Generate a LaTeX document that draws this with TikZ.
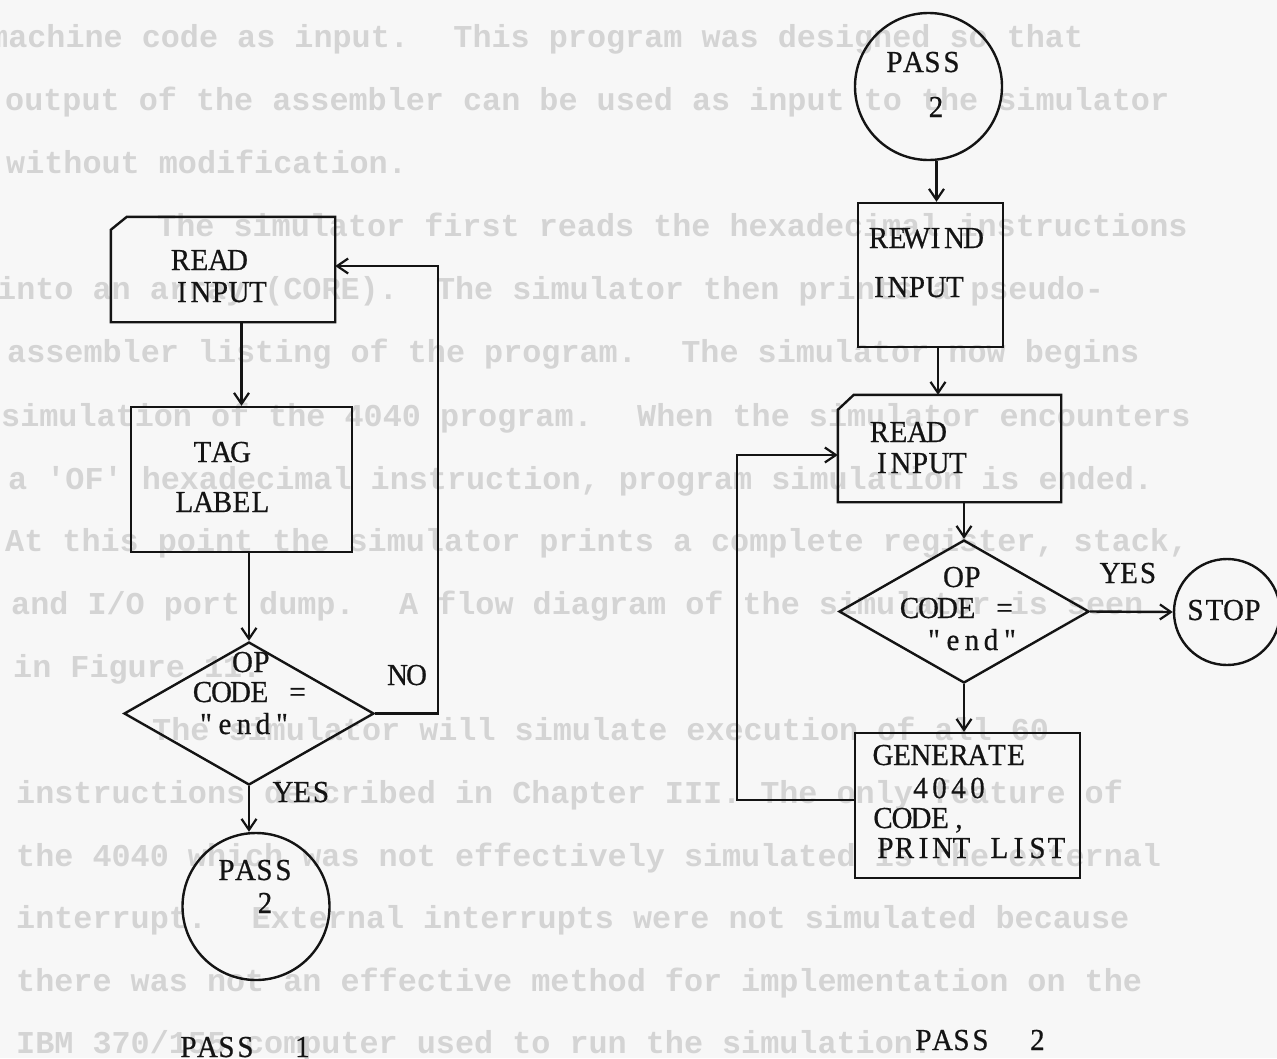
\documentclass[tikz,border=0pt]{standalone}
\usepackage{fontspec}
\setmainfont{Liberation Serif}
\newfontfamily\diagfont{Liberation Serif}[FakeStretch=0.95,FakeBold=0.6,Ligatures=TeXOff]
\newfontfamily\ghostfont{Liberation Mono}[Ligatures=TeXOff]
\usetikzlibrary{arrows.meta,shapes.geometric}
\newlength\monopitch
\setlength\monopitch{19pt}
\makeatletter
\newcommand\monotext[1]{\@tfor\mch:=#1\do{\makebox[\monopitch][c]{\mch}}}
\makeatother
\begin{document}
\begin{tikzpicture}[x=1pt,y=-1pt,
  ln/.style={line width=2.4pt, draw=black!92, line join=miter},
  arr/.style={ln, -{Straight Barb[length=11pt,width=15pt,line width=2.2pt]}},
  boxshape/.style={rectangle, ln, inner sep=0pt},
  cardshape/.style={rectangle, draw=none, inner sep=0pt},
  dshape/.style={diamond, ln, inner sep=0pt},
  cshape/.style={circle, ln, inner sep=0pt},
  txt/.style={font=\diagfont\fontsize{30.5}{32}\selectfont, inner sep=0pt, anchor=base, text=black!92},
  ghost/.style={font=\ghostfont\bfseries\fontsize{31.8}{40}\selectfont, text=black!17, anchor=base west, inner sep=0pt},
]
\useasboundingbox (0,0) rectangle (1277,1058);
\fill[black!3] (0,0) rectangle (1277,1058);
\clip (0,0) rectangle (1277,1058);

% faint text showing through the page
\node[ghost] (g1) at (-11,47) {machine code as input.~ This program was designed so that};
\node[ghost] (g2) at (5,110) {output of the assembler can be used as input to the simulator};
\node[ghost] (g3) at (6,173) {without modification.};
\node[ghost] (g4) at (157,236) {The simulator first reads the hexadecimal instructions};
\node[ghost] (g5) at (-3,299) {into an array (CORE).~ The simulator then prints a pseudo-};
\node[ghost] (g6) at (7,362) {assembler listing of the program.~ The simulator now begins};
\node[ghost] (g7) at (1,426) {simulation of the 4040 program.~ When the simulator encounters};
\node[ghost] (g8) at (8,489) {a 'OF' hexadecimal instruction, program simulation is ended.};
\node[ghost] (g9) at (5,551) {At this point the simulator prints a complete register, stack,};
\node[ghost] (g10) at (11,614) {and I/O port dump.~ A flow diagram of the simulator is seen};
\node[ghost] (g11) at (13,677) {in Figure 11.};
\node[ghost] (g12) at (152,740) {The simulator will simulate execution of all 60};
\node[ghost] (g13) at (16,803) {instructions described in Chapter III. The only feature of};
\node[ghost] (g14) at (16,866) {the 4040 which was not effectively simulated is the external};
\node[ghost] (g15) at (16,928) {interrupt.~ External interrupts were not simulated because};
\node[ghost] (g16) at (16,991) {there was not an effective method for implementation on the};
\node[ghost] (g17) at (16,1053) {IBM 370/155 computer used to run the simulation.};

% ---------------- PASS 1 ----------------
\node[cardshape, minimum width=224pt, minimum height=105pt] (rd1) at (223,269.5) {};
\draw[ln] ([yshift=-13pt]rd1.north west) -- ([xshift=16pt]rd1.north west) -- (rd1.north east)
  -- (rd1.south east) -- (rd1.south west) -- cycle;
\node[txt] (rd1a) at (209,270) {\monotext{READ}};
\node[txt] (rd1b) at (220,302) {\monotext{INPUT}};

\node[boxshape, minimum width=221pt, minimum height=145pt] (tag) at (241.5,479.5) {};
\node[txt] (taga) at (221.5,462) {\monotext{TAG}};
\node[txt] (tagb) at (222.5,512) {\monotext{LABEL}};

\node[dshape, minimum width=250pt, minimum height=143pt] (d1) at (249,713.5) {};
\node[txt] (d1a) at (252,672) {\monotext{OP}};
\node[txt] (d1b) at (250,702) {\monotext{CODE~=}};
\node[txt] (d1c) at (244,734) {\monotext{"end"}};
\node[txt] (no1) at (407,685) {\monotext{NO}};
\node[txt] (yes1) at (302,802) {\monotext{YES}};

\node[cshape, minimum size=147pt] (c1) at (256,906.5) {};
\node[txt] (c1a) at (255,880) {\monotext{PASS}};
\node[txt] (c1b) at (265,913) {\monotext{2}};
\node[txt] (p1) at (245.5,1057) {\monotext{PASS~~1}};

\draw[arr] (rd1.south -| tag.north) -- (tag.north);
\draw[arr] (tag.south -| d1.north) -- (d1.north);
\draw[arr] (d1.east) -| ([xshift=103pt,yshift=3.5pt]rd1.east) -- ([yshift=3.5pt]rd1.east);
\draw[arr] (d1.south) -- (d1.south |- c1.north);

% ---------------- PASS 2 ----------------
\node[cshape, minimum size=147pt] (c2) at (928.5,86.5) {};
\node[txt] (c2a) at (923,72) {\monotext{PASS}};
\node[txt] (c2b) at (936,117) {\monotext{2}};

\node[boxshape, minimum width=145pt, minimum height=144pt] (rw) at (930.5,275) {};
\node[txt] (rwa) at (926,248) {\monotext{REWIND}};
\node[txt] (rwb) at (917,297) {\monotext{INPUT}};

\node[cardshape, minimum width=223pt, minimum height=107pt] (rd2) at (949.5,448.5) {};
\draw[ln] ([yshift=-15pt]rd2.north west) -- ([xshift=16pt]rd2.north west) -- (rd2.north east)
  -- (rd2.south east) -- (rd2.south west) -- cycle;
\node[txt] (rd2a) at (908,442) {\monotext{READ}};
\node[txt] (rd2b) at (920,473) {\monotext{INPUT}};

\node[dshape, minimum width=250pt, minimum height=143pt] (d2) at (964,611.5) {};
\node[txt] (d2a) at (963,587) {\monotext{OP}};
\node[txt] (d2b) at (957,618) {\monotext{CODE~=}};
\node[txt] (d2c) at (972,650) {\monotext{"end"}};
\node[txt] (yes2) at (1129,583) {\monotext{YES}};

\node[cshape, minimum size=106pt] (stop) at (1227,612) {};
\node[txt] (stopa) at (1224,620) {\monotext{STOP}};

\node[boxshape, minimum width=225pt, minimum height=145pt] (gen) at (967.5,805.5) {};
\node[txt] (gena) at (949.5,765) {\monotext{GENERATE}};
\node[txt] (genb) at (949,798) {\monotext{4040}};
\node[txt] (genc) at (921,828) {\monotext{CODE,}};
\node[txt] (gend) at (971,858) {\monotext{PRINT~LIST}};
\node[txt] (p2) at (980.5,1050) {\monotext{PASS~~2}};

\draw[arr] ([xshift=8pt]c2.south) -- ([xshift=8pt]c2.south |- rw.north);
\draw[arr] ([xshift=7.5pt]rw.south) -- ([xshift=7.5pt]rw.south |- rd2.north);
\draw[arr] (rd2.south -| d2.north) -- (d2.north);
\draw[arr] (d2.east) -- (stop.west);
\draw[arr] (d2.south) -- (d2.south |- gen.north);
\draw[arr] ([yshift=5.5pt]gen.west) -| ([xshift=-101pt,yshift=-6.5pt]rd2.west) -- ([yshift=-6.5pt]rd2.west);
\end{tikzpicture}
\end{document}
